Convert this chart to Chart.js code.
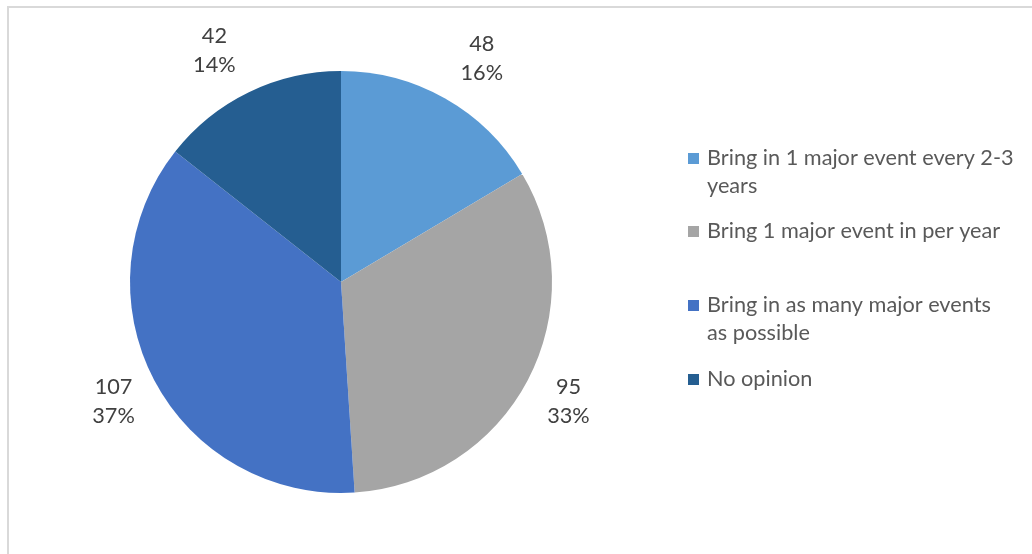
<!DOCTYPE html>
<html>
<head>
<meta charset="utf-8">
<script src="https://cdn.jsdelivr.net/npm/chart.js@4/dist/chart.umd.min.js"></script>
<style>
  html, body { margin: 0; padding: 0; background: #fff; }
  #wrap { position: relative; width: 1032px; height: 554px; }
  #frame { position: absolute; left: 7px; top: 6px; width: 1040px; height: 560px;
           border-left: 2px solid #d9d9d9; border-top: 2px solid #d9d9d9; box-sizing: border-box; }
  canvas { position: absolute; left: 0; top: 0; }
</style>
</head>
<body>
<div id="wrap">
  <div id="frame"></div>
  <canvas id="c" width="1032" height="554"></canvas>
</div>
<script>
const categories = [
  'Bring in 1 major event every 2-3 years',
  'Bring 1 major event in per year',
  'Bring in as many major events as possible',
  'No opinion'
];
const legendLines = [
  ['Bring in 1 major event every 2-3', 'years'],
  ['Bring 1 major event in per year'],
  ['Bring in as many major events', 'as possible'],
  ['No opinion']
];
const counts = [48, 95, 107, 42];
const percentLabels = ['16%', '33%', '37%', '14%'];
const colors = ['#5b9bd5', '#a5a5a5', '#4472c4', '#255e91'];

const FONT = '21.7px Lato, "Open Sans", sans-serif';
const LABEL_COLOR = '#404040';
const LEGEND_COLOR = '#595959';

// Value + percent labels placed just outside each slice
const outsideLabels = {
  id: 'outsideLabels',
  afterDatasetsDraw(chart) {
    const ctx = chart.ctx;
    const meta = chart.getDatasetMeta(0);
    ctx.save();
    ctx.font = FONT;
    ctx.fillStyle = LABEL_COLOR;
    ctx.textAlign = 'center';
    ctx.textBaseline = 'middle';
    const lh = 29;
    meta.data.forEach((arc, i) => {
      const p = arc.getProps(['x', 'y', 'startAngle', 'endAngle', 'outerRadius'], true);
      const mid = (p.startAngle + p.endAngle) / 2;
      const c = Math.cos(mid), s = Math.sin(mid);
      const d = p.outerRadius + 46;
      // labels above the pie are nudged sideways, away from the top edge
      const side = Math.sign(c) * 16 * Math.max(0, -s);
      const cx = p.x + c * d + side, cy = p.y + s * d;
      const lines = [String(counts[i]), percentLabels[i]];
      lines.forEach((t, k) => ctx.fillText(t, cx, cy - lh / 2 + k * lh));
    });
    ctx.restore();
  }
};

// Legend on the right with wrapped entries
const sideLegend = {
  id: 'sideLegend',
  afterDraw(chart) {
    const ctx = chart.ctx;
    const ys = [158, 231, 305, 379];
    ctx.save();
    ctx.font = FONT;
    ctx.textBaseline = 'middle';
    ctx.textAlign = 'left';
    legendLines.forEach((lines, i) => {
      ctx.fillStyle = colors[i];
      ctx.fillRect(688, ys[i] - 5, 11, 11);
      ctx.fillStyle = LEGEND_COLOR;
      lines.forEach((t, k) => ctx.fillText(t, 707, ys[i] + k * 28));
    });
    ctx.restore();
  }
};

new Chart(document.getElementById('c'), {
  type: 'pie',
  data: {
    labels: categories,
    datasets: [{
      data: counts,
      backgroundColor: colors,
      borderWidth: 0
    }]
  },
  options: {
    responsive: false,
    animation: false,
    layout: { padding: { left: 130, right: 480, top: 71, bottom: 61 } },
    plugins: { legend: { display: false }, tooltip: { enabled: false } }
  },
  plugins: [outsideLabels, sideLegend]
});
</script>
</body>
</html>
